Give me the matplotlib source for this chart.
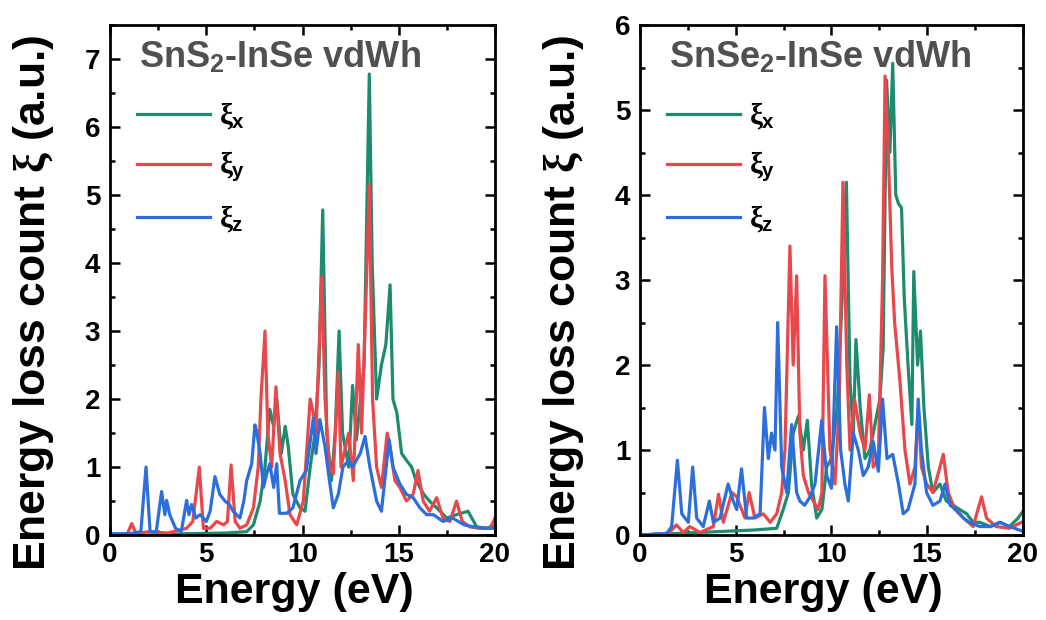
import matplotlib
matplotlib.use("Agg")
import matplotlib.pyplot as plt
import matplotlib.ticker as mticker


# ---- SnS2-InSe vdWh panel ----
sns2_green_e = [0, 2, 4, 6, 7.1, 7.45, 7.8, 8.05, 8.3, 8.5,
                8.66, 8.9, 9.1, 9.26, 9.5, 9.87, 10.13, 10.4, 10.65, 10.86,
                11.05, 11.26, 11.5, 11.7, 11.9, 12.08, 12.4, 12.6, 12.8, 13.2,
                13.47, 13.62, 13.85, 14.1, 14.33, 14.55, 14.7, 14.9, 15.15, 15.4,
                15.67, 15.9, 16.3, 16.6, 16.97, 17.5, 18.0, 18.6, 19.05, 19.6,
                20]
sns2_green_v = [0, 0, 0.02, 0.03, 0.05, 0.15, 0.5, 1.0, 1.85, 1.6,
                2.0, 1.2, 1.6, 1.3, 0.6, 0.4, 0.35, 1.0, 1.5, 2.5,
                4.78, 1.5, 0.8, 1.5, 3.0, 1.5, 1.0, 2.2, 1.4, 2.5,
                6.78, 4.0, 2.0, 2.5, 2.8, 3.68, 2.0, 1.8, 1.2, 1.1,
                1.0, 0.8, 0.6, 0.5, 0.4, 0.25, 0.3, 0.35, 0.12, 0.1,
                0.15]

sns2_red_e = [0, 0.9, 1.13, 1.35, 2, 3, 3.98, 4.3, 4.64, 4.85,
              5.2, 5.54, 5.9, 6.1, 6.29, 6.5, 6.75, 7.1, 7.45, 7.7,
              7.84, 8.05, 8.2, 8.4, 8.62, 8.83, 9.1, 9.35, 9.7, 10.04,
              10.4, 10.56, 10.7, 11.0, 11.17, 11.4, 11.6, 11.86, 12.0, 12.4,
              12.64, 12.9, 13.07, 13.3, 13.47, 13.64, 13.85, 14.1, 14.4, 14.55,
              14.8, 15.06, 15.4, 15.75, 16.0, 16.27, 16.6, 16.97, 17.3, 17.66,
              18.0, 18.3, 18.7, 19.2, 19.74, 20]
sns2_red_v = [0, 0.02, 0.17, 0.02, 0.05, 0.03, 0.1, 0.2, 1.0, 0.1,
              0.1, 0.2, 0.15, 0.2, 1.03, 0.2, 0.1, 0.15, 0.4, 1.0,
              2.0, 3.0, 1.5, 1.0, 2.18, 1.2, 0.8, 0.3, 0.15, 0.5,
              2.0, 1.8, 1.5, 3.8, 2.0, 1.0, 0.9, 2.4, 1.0, 1.5,
              0.8, 2.8, 1.5, 3.5, 5.15, 2.0, 1.0, 0.7, 1.5, 1.3,
              0.8, 0.7, 0.5, 0.6, 0.95, 0.5, 0.35, 0.55, 0.25, 0.2,
              0.5, 0.2, 0.12, 0.1, 0.1, 0.25]

sns2_blue_e = [0, 1.0, 1.6, 1.87, 2.08, 2.4, 2.68, 2.85, 2.94, 3.1,
               3.4, 3.7, 3.98, 4.1, 4.24, 4.45, 4.68, 5.0, 5.2, 5.45,
               5.7, 5.97, 6.2, 6.4, 6.75, 6.95, 7.1, 7.36, 7.53, 7.6,
               7.8, 7.97, 8.14, 8.3, 8.5, 8.66, 8.8, 9.18, 9.5, 9.87,
               10.2, 10.56, 10.7, 10.9, 11.17, 11.4, 11.6, 11.86, 12.1, 12.4,
               12.6, 13.0, 13.25, 13.5, 13.85, 14.1, 14.5, 14.7, 15.06, 15.4,
               15.75, 16.1, 16.45, 16.8, 17.3, 17.8, 18.4, 18.9, 19.4, 20]
sns2_blue_v = [0.02, 0.02, 0.05, 1.0, 0.05, 0.05, 0.64, 0.3, 0.51, 0.3,
               0.1, 0.05, 0.51, 0.3, 0.45, 0.25, 0.3, 0.2, 0.35, 0.86,
               0.6, 0.5, 0.45, 0.35, 0.25, 0.5, 0.8, 1.05, 1.62, 1.55,
               1.2, 0.7, 0.9, 1.05, 0.7, 1.05, 0.32, 0.32, 0.4, 0.8,
               0.95, 1.72, 1.2, 1.7, 1.3, 0.8, 0.4, 0.6, 1.0, 1.1,
               1.0, 1.2, 1.45, 1.0, 0.5, 0.35, 1.4, 1.0, 0.75, 0.6,
               0.55, 0.4, 0.3, 0.3, 0.2, 0.25, 0.15, 0.12, 0.1, 0.1]

# ---- SnSe2-InSe vdWh panel ----
snse2_green_e = [0, 2, 4, 5, 6, 7.14, 7.48, 7.75, 8.0, 8.27,
                 8.53, 8.74, 8.96, 9.23, 9.5, 9.75, 10.0, 10.3, 10.6, 10.78,
                 10.97, 11.14, 11.28, 11.5, 11.75, 12.0, 12.27, 12.53, 12.7, 12.88,
                 13.05, 13.2, 13.36, 13.5, 13.66, 13.8, 14.0, 14.2, 14.3, 14.5,
                 14.65, 14.83, 15.06, 15.3, 15.67, 16.0, 16.36, 16.7, 17.06, 17.4,
                 17.75, 18.3, 18.8, 19.3, 19.75, 20]
snse2_green_v = [0, 0.02, 0.04, 0.05, 0.06, 0.08, 0.3, 0.5, 1.2, 1.4,
                 1.0, 1.35, 0.6, 0.2, 0.3, 0.8, 0.9, 1.5, 3.0, 4.15,
                 1.8, 1.2, 2.3, 1.5, 0.9, 1.0, 1.3, 1.6, 2.2, 5.35,
                 4.5, 5.55, 4.0, 3.9, 3.85, 2.8, 2.0, 1.3, 3.1, 2.0,
                 2.4, 1.5, 0.8, 0.5, 0.6, 0.4, 0.35, 0.3, 0.25, 0.15,
                 0.15, 0.1, 0.15, 0.1, 0.2, 0.28]

snse2_red_e = [0, 1.5, 1.9, 2.26, 2.6, 3.13, 3.83, 4.1, 4.35, 4.8,
               5.05, 5.48, 5.7, 6.0, 6.44, 6.8, 7.14, 7.4, 7.57, 7.83,
               8.0, 8.18, 8.35, 8.53, 8.8, 9.05, 9.31, 9.5, 9.66, 9.92,
               10.18, 10.4, 10.6, 10.8, 10.97, 11.2, 11.5, 11.75, 11.98, 12.18,
               12.45, 12.67, 12.8, 12.97, 13.15, 13.3, 13.58, 13.84, 14.1, 14.36,
               14.53, 14.7, 14.97, 15.3, 15.67, 15.84, 16.1, 16.45, 16.9, 17.4,
               17.84, 18.1, 18.6, 19.3, 19.93]
snse2_red_v = [0, 0.02, 0.12, 0.03, 0.1, 0.03, 0.1, 0.48, 0.15, 0.5,
               0.45, 0.2, 0.5, 0.2, 0.25, 0.15, 0.25, 0.5, 1.0, 3.4,
               2.0, 3.05, 1.2, 0.7, 0.5, 0.4, 0.3, 0.5, 3.05, 1.0,
               0.6, 1.5, 4.15, 2.0, 1.0, 1.6, 1.2, 1.0, 1.65, 0.8,
               0.9, 3.0, 5.4, 4.5, 3.15, 2.5, 1.8, 1.0, 0.6, 0.8,
               1.5, 0.8, 0.6, 0.5, 0.8, 0.95, 0.5, 0.3, 0.2, 0.1,
               0.45, 0.2, 0.1, 0.08, 0.15]

snse2_blue_e = [0, 1.4, 1.65, 1.95, 2.18, 2.52, 2.75, 2.96, 3.3, 3.62,
                3.83, 4.18, 4.6, 4.87, 5.05, 5.3, 5.57, 5.9, 6.27, 6.5,
                6.7, 6.87, 7.05, 7.19, 7.4, 7.66, 7.92, 8.18, 8.35, 8.6,
                8.88, 9.14, 9.49, 9.75, 10.0, 10.27, 10.48, 10.7, 10.88, 11.14,
                11.4, 11.66, 11.92, 12.18, 12.45, 12.67, 12.9, 13.2, 13.5, 13.75,
                14.0, 14.36, 14.53, 14.7, 14.97, 15.3, 15.67, 15.93, 16.2, 16.5,
                16.9, 17.2, 17.75, 18.3, 18.8, 19.3, 19.93]
snse2_blue_v = [0, 0.02, 0.1, 0.88, 0.25, 0.15, 0.8, 0.2, 0.1, 0.4,
                0.15, 0.2, 0.6, 0.4, 0.3, 0.78, 0.2, 0.2, 0.25, 1.5,
                0.9, 1.2, 1.0, 2.5, 0.8, 0.5, 1.3, 0.5, 0.4, 0.35,
                0.45, 0.6, 1.35, 0.7, 0.55, 2.45, 1.0, 0.6, 0.4, 1.2,
                1.0, 0.7, 0.8, 1.1, 0.75, 1.6, 0.9, 0.95, 0.6, 0.25,
                0.3, 0.6, 1.6, 1.0, 0.5, 0.35, 0.4, 0.6, 0.35, 0.3,
                0.2, 0.15, 0.1, 0.1, 0.15, 0.1, 0.05]

series_labels = [r"$\xi_\mathrm{x}$", r"$\xi_\mathrm{y}$", r"$\xi_\mathrm{z}$"]
series_colors = ["#1d8b6e", "#e8474b", "#2c6fdc"]
panel_titles = [r"SnS$_\mathrm{2}$-InSe vdWh", r"SnSe$_\mathrm{2}$-InSe vdWh"]
panel_ylims = [7.5, 6]

plt.rcParams["font.family"] = ["Liberation Sans", "DejaVu Sans"]
plt.rcParams["font.weight"] = "bold"
plt.rcParams["mathtext.fontset"] = "custom"
plt.rcParams["mathtext.rm"] = "Liberation Sans:bold"
plt.rcParams["mathtext.bf"] = "Liberation Sans:bold"
plt.rcParams["mathtext.it"] = "Liberation Serif"


def style_axes(ax, ytop):
    """
    sets limits, ticks and spines so the panel looks like the Origin-style original
    """
    ax.set_xlim(0, 20)
    ax.set_ylim(0, ytop)
    ax.xaxis.set_major_locator(mticker.MultipleLocator(5))
    ax.xaxis.set_minor_locator(mticker.MultipleLocator(2.5))
    ax.yaxis.set_major_locator(mticker.MultipleLocator(1))
    ax.yaxis.set_minor_locator(mticker.MultipleLocator(0.5))
    ax.tick_params(which="both", direction="in", top=True, right=True, width=1.8)
    ax.tick_params(which="major", length=7)
    ax.tick_params(which="minor", length=3.5)
    ax.tick_params(axis="y", labelsize=20, pad=7)
    ax.tick_params(axis="x", labelsize=20, pad=5)
    for spine in ax.spines.values():
        spine.set_linewidth(2)
    ax.set_xlabel("Energy (eV)", fontsize=31, fontweight="bold")
    ax.set_ylabel(r"Energy loss count $\xi$ (a.u.)", fontsize=32, fontweight="bold")
    ax.xaxis.set_label_coords(0.48, -0.072)
    ax.yaxis.set_label_coords(-0.14, 0.455)
    ax.xaxis.label.set_va("top")


def plot_panel(ax, energies, values, title, ytop):
    """
    draws the three loss spectra of one heterostructure with its legend and title
    """
    for e, v, lab, col in zip(energies, values, series_labels, series_colors):
        ax.plot(e, v, color=col, lw=2.3, label=lab)
    style_axes(ax, ytop)
    ax.text(0.075, 0.915, title, transform=ax.transAxes, fontsize=26,
            fontweight="bold", color="#505050", va="baseline")
    ax.legend(loc="upper left", bbox_to_anchor=(0.04, 0.875), frameon=False,
              fontsize=21, handlelength=2.5, labelspacing=0.65, handletextpad=0.3,
              borderaxespad=0)


def main():
    fig = plt.figure(figsize=(10.46, 6.2), dpi=100)
    ax1 = fig.add_axes([0.1052, 0.137, 0.368, 0.8226])
    ax2 = fig.add_axes([0.6119, 0.137, 0.366, 0.8226])
    plot_panel(ax1,
               [sns2_green_e, sns2_red_e, sns2_blue_e],
               [sns2_green_v, sns2_red_v, sns2_blue_v],
               panel_titles[0], panel_ylims[0])
    plot_panel(ax2,
               [snse2_green_e, snse2_red_e, snse2_blue_e],
               [snse2_green_v, snse2_red_v, snse2_blue_v],
               panel_titles[1], panel_ylims[1])
    fig.savefig("out.png", dpi=100)


if __name__ == "__main__":
    main()
